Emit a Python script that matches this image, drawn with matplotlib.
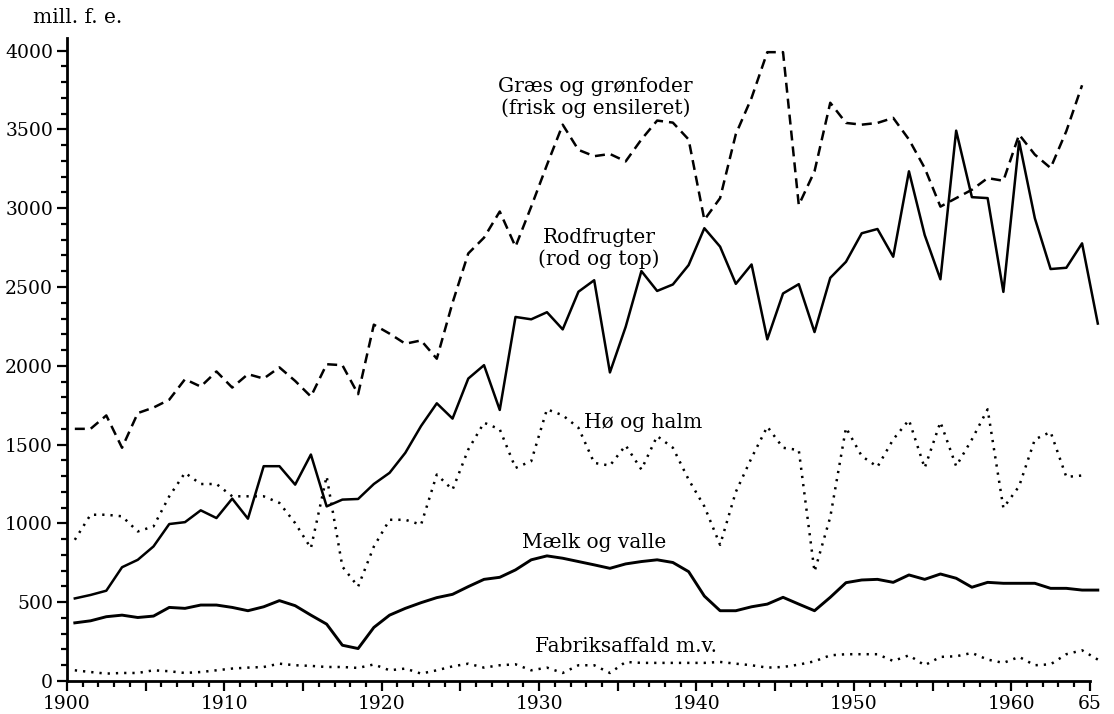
# Foderenheder fra de vigtigste foderemner, 1900-1965
import numpy as np
import matplotlib
matplotlib.use("Agg")
import matplotlib.pyplot as plt
from matplotlib.ticker import MultipleLocator, FixedLocator

plt.rcParams['font.family'] = ['DejaVu Serif']

# Data (mill. f. e.), one value per crop year starting 1900
start_year = 1900

graes = [1600, 1600, 1685, 1480, 1700, 1735, 1785, 1915, 1868, 1964,
         1862, 1947, 1919, 1990, 1904, 1805, 2010, 2004, 1820, 2261,
         2204, 2140, 2161, 2045, 2400, 2713, 2813, 2979, 2756, 3010,
         3275, 3530, 3370, 3330, 3344, 3297, 3436, 3556, 3543, 3436,
         2926, 3064, 3470, 3700, 3990, 3990, 3020, 3234, 3669, 3541,
         3530, 3541, 3573, 3436, 3255, 3010, 3064, 3117, 3191, 3174,
         3467, 3340, 3255, 3489, 3780]

rodfrugter = [524, 546, 573, 722, 769, 854, 996, 1008, 1083, 1034,
              1157, 1030, 1363, 1363, 1246, 1437, 1108, 1151, 1155, 1250,
              1321, 1448, 1618, 1762, 1665, 1919, 2004, 1720, 2310, 2295,
              2340, 2231, 2470, 2543, 1958, 2247, 2601, 2475, 2516, 2639,
              2873, 2756, 2520, 2643, 2168, 2459, 2518, 2214, 2558, 2660,
              2841, 2868, 2692, 3234, 2830, 2549, 3492, 3070, 3064, 2469,
              3424, 2936, 2614, 2622, 2777, 2268]

hoe_halm = [896, 1055, 1055, 1045, 949, 981, 1172, 1321, 1250, 1250,
            1172, 1172, 1172, 1130, 1002, 843, 1299, 726, 599, 853,
            1023, 1023, 992, 1310, 1214, 1469, 1639, 1597, 1352, 1395,
            1724, 1686, 1607, 1384, 1367, 1495, 1342, 1554, 1480, 1278,
            1108, 864, 1200, 1416, 1614, 1480, 1465, 694, 1040, 1607,
            1427, 1359, 1533, 1656, 1352, 1643, 1363, 1533, 1724, 1098,
            1236, 1533, 1580, 1295, 1304]

maelk = [369, 382, 408, 418, 403, 412, 467, 461, 482, 482,
         467, 446, 471, 510, 478, 418, 361, 227, 206, 340,
         418, 461, 497, 529, 550, 599, 645, 658, 705, 769,
         794, 779, 758, 737, 715, 743, 758, 769, 752, 694,
         539, 446, 446, 471, 488, 531, 488, 446, 531, 624,
         641, 645, 626, 673, 645, 679, 652, 595, 626, 620,
         620, 620, 588, 588, 577, 577]

fabrik = [68, 57, 47, 51, 51, 68, 62, 51, 57, 68,
          79, 85, 89, 110, 100, 96, 89, 89, 83, 105,
          68, 79, 47, 68, 93, 110, 85, 100, 106, 68,
          85, 51, 100, 100, 51, 121, 115, 115, 115, 115,
          115, 121, 110, 100, 85, 89, 104, 125, 163, 170,
          170, 170, 127, 163, 100, 153, 157, 178, 136, 115,
          153, 100, 106, 170, 195, 136]

series_labels = ["Græs og grønfoder\n(frisk og ensileret)",
                 "Rodfrugter\n(rod og top)",
                 "Hø og halm",
                 "Mælk og valle",
                 "Fabriksaffald m.v."]

xtick_years = [1900, 1905, 1910, 1915, 1920, 1925, 1930, 1935, 1940,
               1945, 1950, 1955, 1960, 1965]
xtick_labels = ["1900", "", "1910", "", "1920", "", "1930", "", "1940",
                "", "1950", "", "1960", "65"]


def years_for(values):
    # values are plotted in the middle of each crop year
    return np.arange(start_year, start_year + len(values)) + 0.5


fig = plt.figure(figsize=(11.14, 7.14), dpi=100)
ax = fig.add_axes([0.0601, 0.0462, 0.9183, 0.9006])

lw = 1.8
ax.plot(years_for(graes), graes, color='black', lw=lw,
        linestyle=(0, (4, 2.4)), clip_on=False)
ax.plot(years_for(rodfrugter), rodfrugter, color='black', lw=lw, clip_on=False)
ax.plot(years_for(hoe_halm), hoe_halm, color='black', lw=lw,
        linestyle=(0, (0.9, 2.4)), clip_on=False)
ax.plot(years_for(maelk), maelk, color='black', lw=lw + 0.3, clip_on=False)
ax.plot(years_for(fabrik), fabrik, color='black', lw=lw,
        linestyle=(0, (0.9, 2.4)), clip_on=False)

# labels on the curves
fs = 14.5
ax.text(1933.6, 3702, series_labels[0], ha='center', va='center',
        fontsize=fs, linespacing=1.15)
ax.text(1933.8, 2747, series_labels[1], ha='center', va='center',
        fontsize=fs, linespacing=1.15)
ax.text(1936.6, 1643, series_labels[2], ha='center', va='center', fontsize=fs)
ax.text(1933.5, 876, series_labels[3], ha='center', va='center', fontsize=fs)
ax.text(1935.5, 216, series_labels[4], ha='center', va='center', fontsize=fs)

ax.set_xlim(1900, 1965)
ax.set_ylim(0, 4080)

ax.set_xticks(xtick_years)
ax.set_xticklabels(xtick_labels)
ax.xaxis.set_minor_locator(MultipleLocator(1))
ax.set_yticks([0, 500, 1000, 1500, 2000, 2500, 3000, 3500, 4000])
ax.yaxis.set_minor_locator(MultipleLocator(100))

ax.tick_params(axis='both', which='major', direction='out', length=7,
               width=1.6, labelsize=13.5, pad=3)
ax.tick_params(axis='both', which='minor', direction='out', length=4,
               width=1.6)

for s in ('top', 'right'):
    ax.spines[s].set_visible(False)
for s in ('left', 'bottom'):
    ax.spines[s].set_linewidth(2)

fig.text(0.03, 0.976, "mill. f. e.", fontsize=14.5, ha='left', va='center')

fig.savefig('out.png', dpi=100)
